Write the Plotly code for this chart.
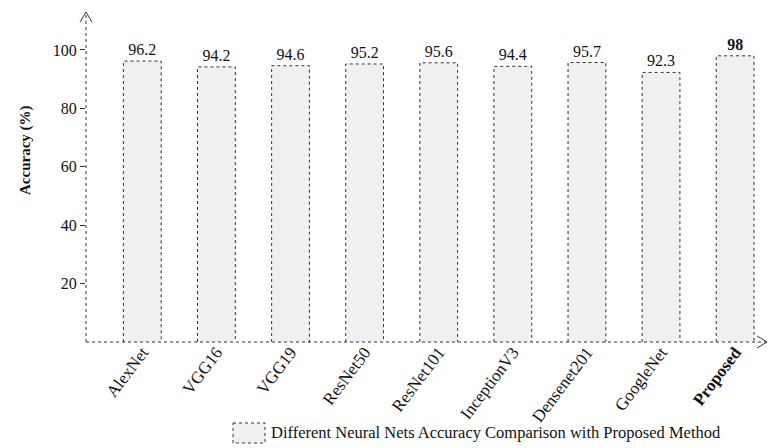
import plotly.graph_objects as go

# data
models = ['AlexNet', 'VGG16', 'VGG19', 'ResNet50', 'ResNet101',
          'InceptionV3', 'Densenet201', 'GoogleNet', 'Proposed']
accuracy = [96.2, 94.2, 94.6, 95.2, 95.6, 94.4, 95.7, 92.3, 98]
y_ticks = [20, 40, 60, 80, 100]

FONT = '"Times New Roman", "Liberation Serif", serif'
BAR_W = 0.51

xs = list(range(len(models)))
labels = [f'{v:g}' for v in accuracy]
labels[-1] = f'<b>{labels[-1]}</b>'
tick_text = models[:-1] + [f'<b>{models[-1]}</b>']

fig = go.Figure()

fig.add_trace(go.Bar(
    x=xs, y=accuracy, width=BAR_W,
    marker=dict(color='#f0f0f0', line=dict(width=0)),
    text=labels, textposition='outside', cliponaxis=False,
    textfont=dict(family=FONT, size=16, color='#111'),
    showlegend=False, hoverinfo='x+y'
))

# dotted outline for each bar
ox, oy = [], []
for x, v in zip(xs, accuracy):
    ox += [x - BAR_W / 2, x - BAR_W / 2, x + BAR_W / 2, x + BAR_W / 2, None]
    oy += [0, v, v, 0, None]
fig.add_trace(go.Scatter(
    x=ox, y=oy, mode='lines',
    line=dict(color='#333', width=1, dash='dot'),
    showlegend=False, hoverinfo='skip'
))

shapes = [
    # dotted axes
    dict(type='line', xref='paper', yref='paper', x0=0, x1=0, y0=0, y1=1,
         line=dict(color='#333', width=1, dash='dot')),
    dict(type='line', xref='paper', yref='paper', x0=0, x1=1, y0=0, y1=0,
         line=dict(color='#333', width=1, dash='dot')),
    # arrow heads
    dict(type='path', xref='paper', yref='paper', xsizemode='pixel', ysizemode='pixel',
         xanchor=0, yanchor=1, path='M -6,-10 L 0,0 L 6,-10',
         line=dict(color='#333', width=1)),
    dict(type='path', xref='paper', yref='paper', xsizemode='pixel', ysizemode='pixel',
         xanchor=1, yanchor=0, path='M -10,6 L 0,0 L -10,-6',
         line=dict(color='#333', width=1)),
    # legend swatch
    dict(type='rect', xref='paper', yref='paper', xsizemode='pixel', ysizemode='pixel',
         xanchor=0, yanchor=0, x0=147, x1=179, y0=-81, y1=-101,
         fillcolor='#f0f0f0', line=dict(color='#333', width=1, dash='dot')),
]

# legend text
fig.add_annotation(
    xref='paper', yref='paper', x=(269 - 86) / 681, y=-0.273,
    xanchor='left', yanchor='middle', showarrow=False,
    text='Different Neural Nets Accuracy Comparison with Proposed Method',
    font=dict(family=FONT, size=16.5, color='#111')
)
# y axis title (sits above the plot centre in the reference)
fig.add_annotation(
    xref='paper', yref='paper', x=(25 - 86) / 681, y=(342 - 150) / 330,
    xanchor='center', yanchor='middle', showarrow=False, textangle=-90,
    text='<b>Accuracy (%)</b>',
    font=dict(family=FONT, size=15, color='#111')
)

fig.update_layout(
    width=779, height=448,
    margin=dict(l=78, r=20, t=4, b=114),
    paper_bgcolor='white', plot_bgcolor='white',
    font=dict(family=FONT, size=15, color='#111'),
    shapes=shapes,
    bargap=0.5
)
fig.update_xaxes(
    range=[-0.76, 8.43], tickvals=xs, ticktext=tick_text,
    tickangle=-53, showgrid=False, zeroline=False, showline=False,
    tickfont=dict(family=FONT, size=17, color='#111'), ticks='', automargin=False,
    ticklabelstandoff=-4
)
fig.update_yaxes(
    range=[0, 113], tickvals=y_ticks, showgrid=False, zeroline=False,
    showline=False, ticks='outside', ticklen=5, tickcolor='#333',
    tickfont=dict(family=FONT, size=16, color='#111'), automargin=False
)

fig.write_html('out.html')
